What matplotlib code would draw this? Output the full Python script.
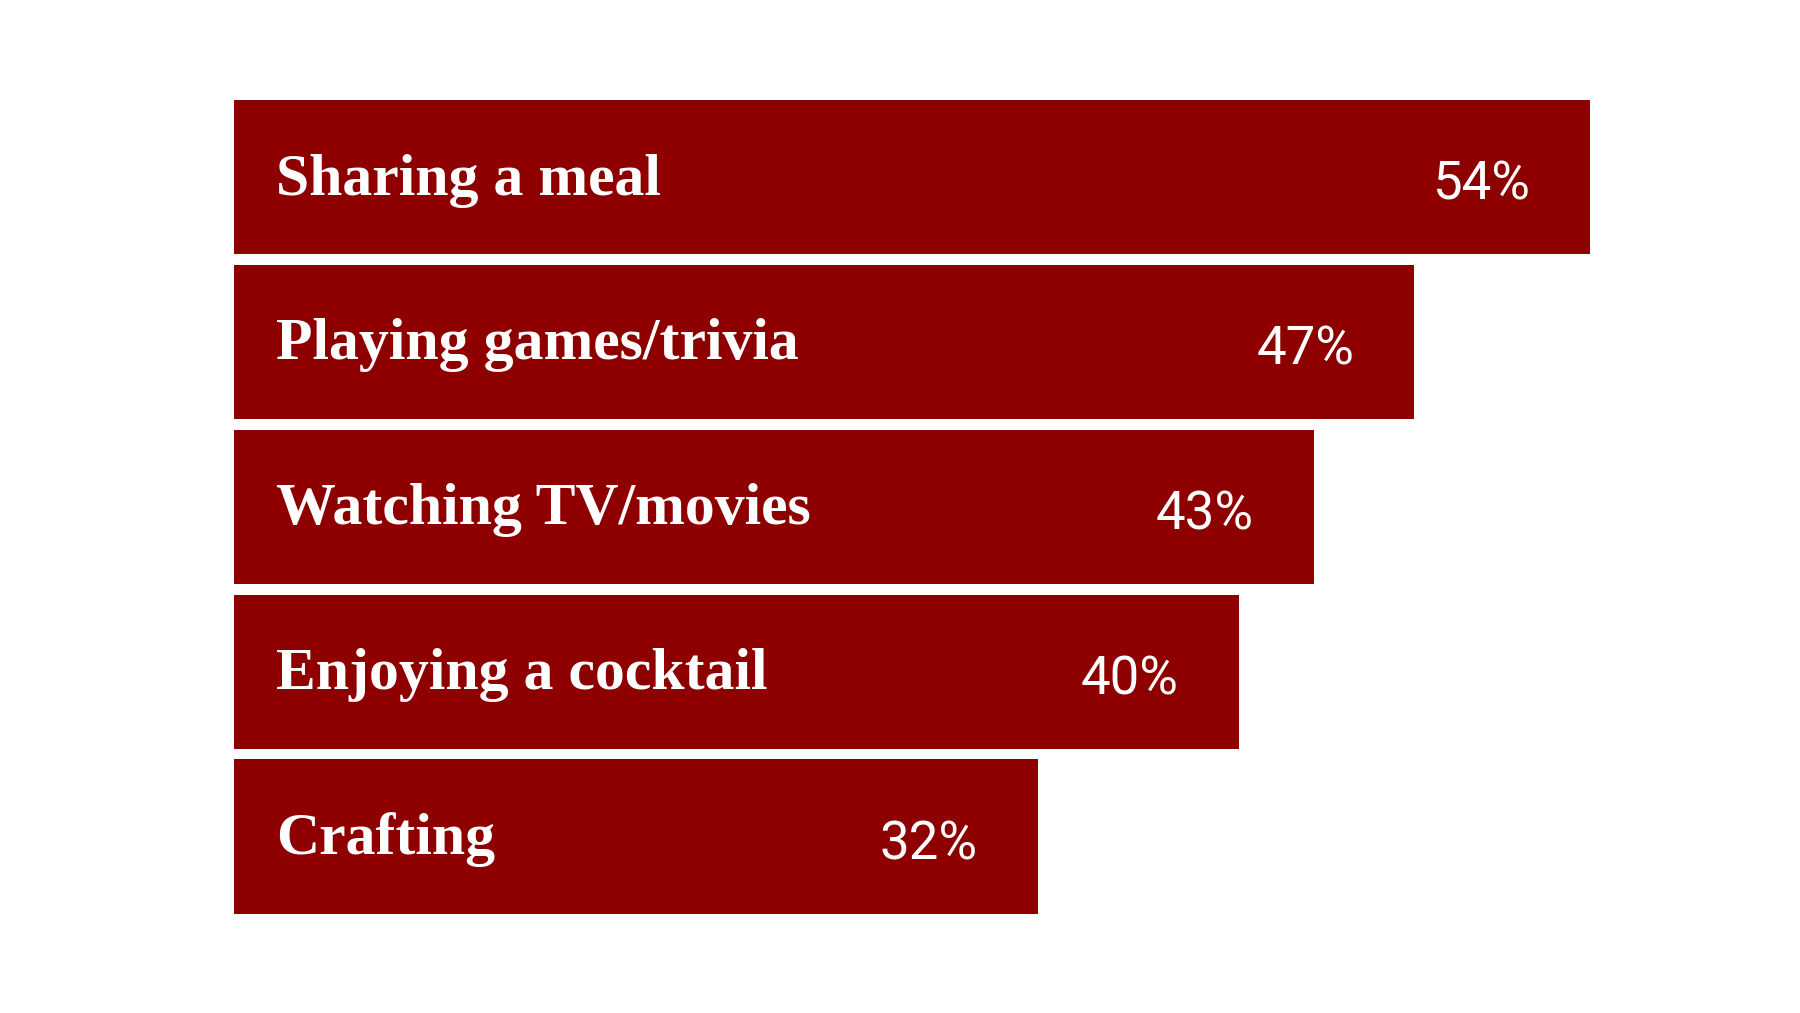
import matplotlib
matplotlib.use("Agg")
import matplotlib.pyplot as plt

categories = ["Sharing a meal", "Playing games/trivia", "Watching TV/movies", "Enjoying a cocktail", "Crafting"]
values = [54, 47, 43, 40, 32]
labels = ["54%", "47%", "43%", "40%", "32%"]

fig = plt.figure(figsize=(18, 10.13), dpi=100)
ax = fig.add_axes([0, 0, 1, 1])
ax.set_xlim(-9.3, 62.35)
ax.set_ylim(5.07, -1.075)
ax.axis("off")
color = "#8E0000"
ys = list(range(len(categories)))
ax.barh(ys, values, height=0.937, left=0, color=color)
for y, c, v, l in zip(ys, categories, values, labels):
    ax.text(1.7, y + 0.02, c, color="white", fontsize=43, fontweight="bold",
            family="Liberation Serif", va="center", ha="left")
    ax.text(v - 2.4, y + 0.05, l, color="white", fontsize=38,
            family="Roboto", va="center", ha="right")
fig.savefig("out.png", dpi=100, facecolor="white")
